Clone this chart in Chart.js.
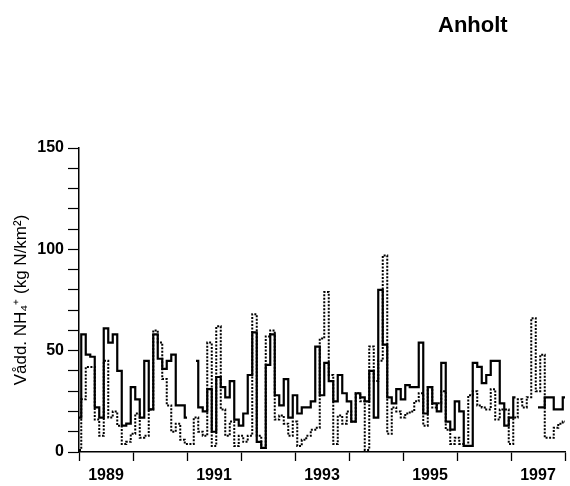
<!DOCTYPE html>
<html>
<head>
<meta charset="utf-8">
<script src="https://cdn.jsdelivr.net/npm/chart.js@4.4.1/dist/chart.umd.min.js"></script>
<style>
  body { margin: 0; background: #fff; }
  canvas { display: block; }
</style>
</head>
<body>
<canvas id="myChart" width="570" height="486"></canvas>
<script>
// monthly values, Jan 1989 .. Jan 1998
var startYear = 1989;
var endYear = 1998;

var solid = [
  17, 58, 48, 47, 22, 17, 61, 54, 58, 40, 13, 14,
  32, 26, 17, 45, 21, 58, 46, 41, 45, 48, 23, 23,
  17, null, 45, 22, 20, 31, 10, 37, 32, 27, 35, 16,
  13, 19, 38, 59, 5, 2, 43, 58, 28, 23, 36, 17,
  28, 19, 22, 22, 25, 52, 28, 44, 35, 25, 38, 29,
  25, 15, 29, 27, 25, 40, 17, 80, 53, 27, 24, 31,
  26, 33, 32, 32, 54, 19, 32, 24, 20, 44, 15, 11,
  25, 20, 3, 3, 44, 42, 34, 38, 45, 45, 24, 13,
  17, 27, null, null, null, null, 22, 22, 27, 27, 21, 21,
  27
];

var dotted = [
  1, 26, 42, 42, 16, 8, 45, 17, 20, 13, 4, 5,
  9, 19, 7, 8, 21, 60, 54, 36, 23, 10, 14, 6,
  4, 4, 17, 10, 8, 54, 3, 62, 21, 8, 15, 3,
  8, 5, 8, 68, 8, 2, 57, 60, 16, 18, 14, 8,
  15, 3, 6, 8, 11, 12, 56, 79, 38, 4, 18, 14,
  20, 15, 29, 25, 1, 52, 35, 45, 97, 9, 22, 20,
  17, 19, 20, 25, 29, 13, 32, 22, 24, 30, 11, 4,
  7, 4, 3, 28, 30, 23, 22, 21, 31, 16, 21, 21,
  4, 17, 26, 22, 27, 66, 30, 48, 7, 7, 12, 14,
  15
];

var yearLabels = [1989, 1991, 1993, 1995, 1997];
var yLabels = [0, 50, 100, 150];

function toPoints(arr) {
  return arr.map(function (v, i) {
    return { x: startYear + i / 12, y: v };
  });
}

var titlePlugin = {
  id: "anholt",
  afterDraw: function (chart) {
    var ctx = chart.ctx;
    ctx.save();
    ctx.fillStyle = "#000";
    ctx.font = "bold 22px 'Liberation Sans', Arial, sans-serif";
    ctx.textAlign = "left";
    ctx.textBaseline = "alphabetic";
    ctx.fillText("Anholt", 438, 32);
    ctx.restore();
  }
};

var tickFont = { family: "'Liberation Sans', Arial, sans-serif", size: 16, weight: "bold" };

new Chart(document.getElementById("myChart"), {
  type: "line",
  data: {
    datasets: [
      {
        data: toPoints(solid),
        borderColor: "#000",
        borderWidth: 2.2,
        stepped: "middle",
        pointRadius: 0,
        spanGaps: false,
        order: 0
      },
      {
        data: toPoints(dotted),
        borderColor: "#000",
        borderWidth: 2,
        borderDash: [2, 1.5],
        stepped: "middle",
        pointRadius: 0,
        order: 1
      }
    ]
  },
  options: {
    responsive: false,
    animation: false,
    layout: { padding: { left: 2, right: 3, top: 148, bottom: 0 } },
    plugins: {
      legend: { display: false },
      tooltip: { enabled: false }
    },
    scales: {
      x: {
        type: "linear",
        min: startYear,
        max: endYear,
        afterBuildTicks: function (axis) {
          var t = [];
          for (var y = startYear; y <= endYear; y += 0.5) t.push({ value: y });
          axis.ticks = t;
        },
        afterFit: function (axis) { axis.height = 34; },
        grid: {
          drawOnChartArea: false,
          tickLength: 9,
          tickWidth: 1.3,
          tickColor: function (c) {
            return c.tick && c.tick.value % 1 === 0 ? "#000" : "rgba(0,0,0,0)";
          }
        },
        border: { color: "#000", width: 1.5 },
        ticks: {
          autoSkip: false,
          maxRotation: 0,
          padding: 5,
          color: "#000",
          font: tickFont,
          callback: function (v) {
            var yr = Math.floor(v);
            return v - yr === 0.5 && yearLabels.indexOf(yr) >= 0 ? String(yr) : "";
          }
        }
      },
      y: {
        min: 0,
        max: 150,
        afterFit: function (axis) { axis.width = 77; },
        grid: {
          drawOnChartArea: false,
          tickLength: 11,
          tickWidth: 1.2,
          tickColor: "#000"
        },
        border: { color: "#000", width: 1.5 },
        ticks: {
          stepSize: 10,
          autoSkip: false,
          padding: 4,
          color: "#000",
          font: tickFont,
          callback: function (v) {
            return yLabels.indexOf(v) >= 0 ? String(v) : "";
          }
        },
        title: {
          display: true,
          text: "Vådd. NH\u2084\u207A (kg N/km\u00B2)",
          color: "#000",
          padding: { top: 9, bottom: 0 },
          font: { family: "'Liberation Sans', Arial, sans-serif", size: 17 }
        }
      }
    }
  },
  plugins: [titlePlugin]
});
</script>
</body>
</html>
